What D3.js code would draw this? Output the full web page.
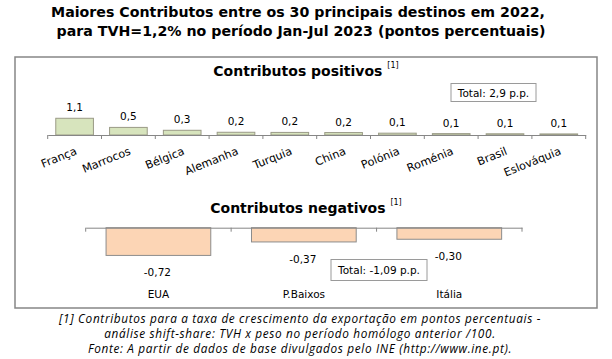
<!DOCTYPE html>
<html><head><meta charset="utf-8">
<script src="https://cdn.jsdelivr.net/npm/d3@7"></script>
<style>
body{margin:0;background:#fff;}
svg{display:block;}
</style></head>
<body>
<svg id="c" width="612" height="359"></svg>
<script>
const titleLines = ["Maiores Contributos entre os 30 principais destinos em 2022,",
                    "para TVH=1,2% no período Jan-Jul 2023 (pontos percentuais)"];
const posCategories = ["França","Marrocos","Bélgica","Alemanha","Turquia","China","Polónia","Roménia","Brasil","Eslováquia"];
const posValues = [1.10, 0.50, 0.31, 0.18, 0.17, 0.16, 0.12, 0.09, 0.08, 0.07];
const negCategories = ["EUA","P.Baixos","Itália"];
const negValues = [-0.72, -0.37, -0.30];
const posTitle = "Contributos positivos";
const negTitle = "Contributos negativos";
const posTotal = "Total: 2,9 p.p.";
const negTotal = "Total: -1,09 p.p.";
const notes = ["[1] Contributos para a taxa de crescimento da exportação em pontos percentuais -",
               "análise shift-share: TVH x peso no período homólogo anterior /100.",
               "Fonte: A partir de dados de base divulgados pelo INE (http://www.ine.pt)."];

const svg = d3.select("#c");
const F = "DejaVu Sans, Verdana, sans-serif";
const comma = f => v => f(v).replace(".", ",").replace("\u2212", "-");

// main title
svg.append("g").selectAll("text").data(titleLines).join("text")
  .attr("x", (d,i) => i ? 301 : 298).attr("y", (d,i) => 17 + i*18.5)
  .attr("text-anchor","middle").attr("font-family",F).attr("font-weight","bold")
  .attr("font-size", 14.2).attr("fill","#000").text(d => d);

// frame
svg.append("rect").attr("x",15).attr("y",57).attr("width",582).attr("height",251)
  .attr("fill","#fff").attr("stroke","#868686").attr("stroke-width",1.5);

function subTitle(txt, y){
  const t = svg.append("text").attr("x",306).attr("y",y).attr("text-anchor","middle")
    .attr("font-family",F).attr("font-weight","bold").attr("font-size",14).attr("fill","#000");
  t.append("tspan").text(txt + " ");
  t.append("tspan").attr("dy",-8).attr("font-size",8).attr("font-weight","normal").text("[1]");
}

// ---- positive chart ----
subTitle(posTitle, 76);
const xP = d3.scaleBand().domain(posCategories).range([47.7, 585.7]).paddingInner(0.3).paddingOuter(0.15);
const yP = d3.scaleLinear().domain([0, 1]).range([135, 119.8]);
const gP = svg.append("g");
gP.selectAll("rect").data(posValues).join("rect")
  .attr("x", (d,i) => xP(posCategories[i])).attr("width", xP.bandwidth())
  .attr("y", d => yP(d)).attr("height", d => yP(0) - yP(d))
  .attr("fill","#d7e4bd").attr("stroke","#9a9a86").attr("stroke-width",1);
const axP = gP.append("g").attr("transform","translate(0,135)")
  .call(d3.axisBottom(xP).tickSize(0).tickFormat(""));
axP.select(".domain").attr("stroke","#868686");
const step = xP.step();
gP.selectAll("line.tk").data(d3.range(posCategories.length+1)).join("line").attr("class","tk")
  .attr("x1", i => 47.7 + i*step).attr("x2", i => 47.7 + i*step)
  .attr("y1",135).attr("y2",139).attr("stroke","#868686");
gP.selectAll("text.v").data(posValues).join("text").attr("class","v")
  .attr("x", (d,i) => xP(posCategories[i]) + xP.bandwidth()/2)
  .attr("y", d => yP(d) - 7).attr("text-anchor","middle")
  .attr("font-family",F).attr("font-size",10.5).text(comma(d3.format(".1f")));
gP.selectAll("text.c").data(posCategories).join("text").attr("class","c")
  .attr("transform", d => `translate(${xP(d)+xP.bandwidth()/2+3},154) rotate(-22)`)
  .attr("text-anchor","end").attr("font-family",F).attr("font-size",11.2).text(d => d);
// total box
const tbP = svg.append("g");
tbP.append("rect").attr("x",451).attr("y",83.5).attr("width",85).attr("height",18)
  .attr("fill","#fff").attr("stroke","#9a9a9a");
tbP.append("text").attr("x",493.5).attr("y",96.5).attr("text-anchor","middle")
  .attr("font-family",F).attr("font-size",10.5).text(posTotal);

// ---- negative chart ----
subTitle(negTitle, 213);
const xN = d3.scaleBand().domain(negCategories).range([85.7, 522]).paddingInner(0.28).paddingOuter(0.14);
const yN = d3.scaleLinear().domain([0, -1]).range([227.7, 266.2]);
const gN = svg.append("g");
gN.selectAll("rect").data(negValues).join("rect")
  .attr("x", (d,i) => xN(negCategories[i])).attr("width", xN.bandwidth())
  .attr("y", yN(0)).attr("height", d => yN(d) - yN(0))
  .attr("fill","#fcd5b5").attr("stroke","#8c8c8c").attr("stroke-width",1);
const axN = gN.append("g").attr("transform","translate(0,227.7)")
  .call(d3.axisTop(xN).tickSize(0).tickFormat(""));
axN.select(".domain").attr("stroke","#868686");
const stepN = xN.step();
gN.selectAll("line.tk").data(d3.range(negCategories.length+1)).join("line").attr("class","tk")
  .attr("x1", i => 85.7 + i*stepN).attr("x2", i => 85.7 + i*stepN)
  .attr("y1",227.7).attr("y2",231.7).attr("stroke","#868686");
gN.selectAll("text.v").data(negValues).join("text").attr("class","v")
  .attr("x", (d,i) => xN(negCategories[i]) + xN.bandwidth()/2 - 1)
  .attr("y", d => yN(d) + 21).attr("text-anchor","middle")
  .attr("font-family",F).attr("font-size",10.5).text(comma(d3.format(".2f")));
gN.selectAll("text.c").data(negCategories).join("text").attr("class","c")
  .attr("x", d => xN(d) + xN.bandwidth()/2).attr("y", 298)
  .attr("text-anchor","middle").attr("font-family",F).attr("font-size",10.5).text(d => d);
const tbN = svg.append("g");
tbN.append("rect").attr("x",331).attr("y",259.5).attr("width",96).attr("height",21)
  .attr("fill","#fff").attr("stroke","#9a9a9a");
tbN.append("text").attr("x",379).attr("y",274).attr("text-anchor","middle")
  .attr("font-family",F).attr("font-size",10.5).text(negTotal);

// footnotes
svg.append("g").selectAll("text").data(notes).join("text")
  .attr("x", 300).attr("y", (d,i) => 322.5 + i*15).attr("text-anchor","middle")
  .attr("font-family","Open Sans, Lato, sans-serif").attr("font-style","italic")
  .attr("font-size",11.8).attr("letter-spacing",0.65).attr("fill","#000").text(d => d);
</script>
</body></html>
